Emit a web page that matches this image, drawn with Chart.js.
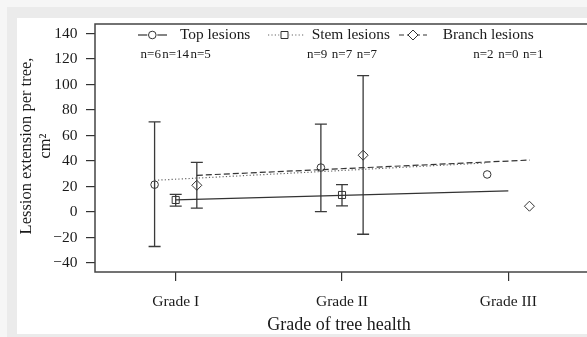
<!DOCTYPE html>
<html><head><meta charset="utf-8">
<script src="https://cdn.jsdelivr.net/npm/chart.js@4/dist/chart.umd.min.js"></script>
<style>
html,body{margin:0;padding:0;width:587px;height:337px;overflow:hidden;background:#f6f6f6;}
#outer{position:absolute;left:7px;top:7px;width:700px;height:340px;background:#ebebeb;}
#panel{position:absolute;left:17px;top:18px;width:620px;height:316px;background:#fff;}
canvas{display:block;}
</style></head><body>
<div id="outer"></div>
<div id="panel"><canvas id="c" width="620" height="316"></canvas></div>
<script>
const grades = ["Grade I", "Grade II", "Grade III"];
const gradePos = [1, 2, 3];
const seriesNames = ["Top lesions", "Stem lesions", "Branch lesions"];
const topMean = [21.5, 34.9, 29.5];
const topLow = [-27, 0.3, null];
const topHigh = [70.8, 69, null];
const stemMean = [9.5, 13.4, null];
const stemLow = [4.6, 4.9, null];
const stemHigh = [13.9, 21.5, null];
const branchMean = [21, 44.6, 4.6];
const branchLow = [3.1, -17.4, null];
const branchHigh = [39, 107, null];
const nTop = [6, 9, 2];
const nStem = [14, 7, 0];
const nBranch = [5, 7, 1];
const yTicks = [-40, -20, 0, 20, 40, 60, 80, 100, 120, 140];
const topTrendX = [0.873, 2.873], topTrendY = [24.9, 38.6];
const stemTrendX = [1, 3], stemTrendY = [9.5, 16.7];
const branchTrendX = [1.127, 3.13], branchTrendY = [28.8, 40.8];

const OFF = 0.127, NOFF = 0.15;
const ink = '#333';
const TXT = '#1a1a1a';
const SERIF = '"Liberation Serif", "DejaVu Serif", serif';

function pts(means, off) {
  return means.map((v, i) => v == null ? null : {x: gradePos[i] + off, y: v}).filter(p => p);
}
function seg(xs, ys) { return xs.map((x, i) => ({x: x, y: ys[i]})); }

function marker(ctx, style, x, y) {
  ctx.save();
  ctx.strokeStyle = ink; ctx.lineWidth = 1; ctx.setLineDash([]);
  ctx.beginPath();
  if (style === 'circle') { ctx.arc(x, y, 3.8, 0, Math.PI * 2); }
  else if (style === 'rect') { ctx.rect(x - 3.5, y - 3.5, 7, 7); }
  else { ctx.moveTo(x, y - 5); ctx.lineTo(x + 5, y); ctx.lineTo(x, y + 5); ctx.lineTo(x - 5, y); ctx.closePath(); }
  ctx.stroke();
  ctx.restore();
}

const overlay = {
  id: 'overlay',
  beforeDatasetsDraw(chart) {
    const ctx = chart.ctx, xs = chart.scales.x, ys = chart.scales.y;
    const groups = [[topLow, topHigh, -OFF], [stemLow, stemHigh, 0], [branchLow, branchHigh, OFF]];
    ctx.save();
    ctx.strokeStyle = '#3a3a3a'; ctx.lineWidth = 1.3;
    groups.forEach(([lo, hi, off]) => {
      lo.forEach((l, i) => {
        if (l == null) return;
        const x = xs.getPixelForValue(gradePos[i] + off);
        const y1 = ys.getPixelForValue(l), y2 = ys.getPixelForValue(hi[i]);
        ctx.beginPath();
        ctx.moveTo(x, y1); ctx.lineTo(x, y2);
        ctx.moveTo(x - 6, y1); ctx.lineTo(x + 6, y1);
        ctx.moveTo(x - 6, y2); ctx.lineTo(x + 6, y2);
        ctx.stroke();
      });
    });
    ctx.restore();
  },
  afterDraw(chart) {
    const ctx = chart.ctx, a = chart.chartArea, xs = chart.scales.x;
    ctx.save();
    // plot box
    ctx.strokeStyle = '#444'; ctx.lineWidth = 1.5;
    ctx.strokeRect(a.left, a.top, a.right - a.left, a.bottom - a.top);
    // legend
    ctx.fillStyle = TXT;
    ctx.font = '15.4px ' + SERIF;
    ctx.textBaseline = 'middle'; ctx.textAlign = 'left';
    const ly = 17;
    const items = [
      {x0: 121, x1: 150, mx: 135.3, style: 'circle', dash: [], tx: 163, col: ink},
      {x0: 251, x1: 288, mx: 267.5, style: 'rect', dash: [1.2, 2.2], tx: 294.7, col: '#666'},
      {x0: 382, x1: 410, mx: 396, style: 'diamond', dash: [5, 3], tx: 425.7, col: ink}
    ];
    items.forEach((it, k) => {
      ctx.save();
      ctx.strokeStyle = it.col; ctx.lineWidth = 1.2; ctx.setLineDash(it.dash);
      ctx.beginPath(); ctx.moveTo(it.x0, ly); ctx.lineTo(it.x1, ly); ctx.stroke();
      ctx.restore();
      ctx.save(); ctx.fillStyle = '#fff';
      ctx.fillRect(it.mx - 5, ly - 5, 10, 10);
      ctx.restore();
      marker(ctx, it.style, it.mx, ly);
      ctx.fillText(seriesNames[k], it.tx, ly);
    });
    // n labels
    ctx.font = '13px ' + SERIF; ctx.textAlign = 'center';
    [[nTop, -NOFF], [nStem, 0], [nBranch, NOFF]].forEach(([ns, off]) => {
      ns.forEach((n, i) => {
        ctx.fillText('n=' + n, xs.getPixelForValue(gradePos[i] + off), 37);
      });
    });
    // axis titles
    ctx.font = '18px ' + SERIF;
    ctx.fillText('Grade of tree health', 322, 307);
    ctx.save();
    ctx.translate(10, 128); ctx.rotate(-Math.PI / 2);
    ctx.font = '16.5px ' + SERIF;
    ctx.fillText('Lession extension per tree,', 0, 0);
    ctx.restore();
    ctx.save();
    ctx.translate(29, 128); ctx.rotate(-Math.PI / 2);
    ctx.font = '16.5px ' + SERIF;
    ctx.fillText('cm²', 0, 0);
    ctx.restore();
    ctx.restore();
  }
};

const pointDs = (means, off, style, r) => ({
  data: pts(means, off), pointStyle: style, pointRadius: r, pointBorderColor: ink,
  pointBackgroundColor: 'rgba(0,0,0,0)', pointBorderWidth: 1, showLine: false
});

new Chart(document.getElementById('c'), {
  type: 'scatter',
  data: {datasets: [
    {data: seg(topTrendX, topTrendY), showLine: true, borderColor: '#666', borderWidth: 1.2, borderDash: [1.2, 2.2], pointRadius: 0},
    {data: seg(stemTrendX, stemTrendY), showLine: true, borderColor: ink, borderWidth: 1.2, pointRadius: 0},
    {data: seg(branchTrendX, branchTrendY), showLine: true, borderColor: ink, borderWidth: 1.2, borderDash: [6, 3], pointRadius: 0},
    pointDs(topMean, -OFF, 'circle', 3.8),
    pointDs(stemMean, 0, 'rect', 5),
    pointDs(branchMean, OFF, 'rectRot', 5)
  ]},
  options: {
    responsive: false, animation: false, events: [],
    plugins: {legend: {display: false}, tooltip: {enabled: false}},
    layout: {padding: {left: 0, top: 1.5, right: 37, bottom: 0}},
    scales: {
      x: {
        type: 'linear', min: 0.5147, max: 3.5514,
        border: {display: false},
        grid: {drawOnChartArea: false, drawTicks: true, tickLength: 9, color: ink, lineWidth: 1.2},
        afterBuildTicks: s => { s.ticks = gradePos.map(v => ({value: v})); },
        ticks: {callback: v => grades[gradePos.indexOf(v)], font: {family: SERIF, size: 15.5}, color: TXT, padding: 12, autoSkip: false, maxRotation: 0},
        afterFit: s => { s.height = 62; s.paddingLeft = 0; s.paddingRight = 0; }
      },
      y: {
        type: 'linear', min: -47, max: 147.5,
        border: {display: false},
        grid: {drawOnChartArea: false, drawTicks: true, tickLength: 9, color: ink, lineWidth: 1.2},
        afterBuildTicks: s => { s.ticks = yTicks.map(v => ({value: v})); },
        ticks: {callback: v => String(v).replace('-', '\u2212'), font: {family: SERIF, size: 15.5}, color: TXT, padding: 8.5},
        afterFit: s => { s.width = 78; s.paddingTop = 0; s.paddingBottom = 0; }
      }
    }
  },
  plugins: [overlay]
});
</script>
</body></html>
